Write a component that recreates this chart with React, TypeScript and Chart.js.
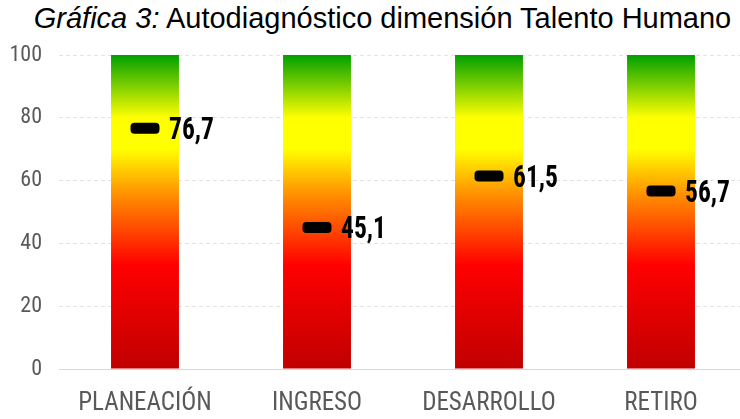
import React, { useEffect, useRef } from "react";
import { Chart, registerables } from "chart.js";

Chart.register(...registerables);

const categories = ["PLANEACIÓN", "INGRESO", "DESARROLLO", "RETIRO"];
const scores = [76.7, 45.1, 61.5, 56.7];
const scaleMax = [100, 100, 100, 100];
const scoreLabels = ["76,7", "45,1", "61,5", "56,7"];
const yTicks = [0, 20, 40, 60, 80, 100];

const NARROW = '"Liberation Sans Narrow", "Arial Narrow", "Roboto Condensed", sans-serif';

const markerPlugin = {
  id: "markers",
  afterDatasetsDraw(chart: any) {
    const { ctx } = chart;
    const meta = chart.getDatasetMeta(0);
    const y = chart.scales.y;
    meta.data.forEach((bar: any, i: number) => {
      const cx = bar.x;
      const cy = y.getPixelForValue(scores[i]);
      const w = 29;
      const h = 11;
      ctx.save();
      ctx.fillStyle = "#000";
      ctx.beginPath();
      (ctx as any).roundRect(cx - w / 2, cy - h / 2, w, h, 4);
      ctx.fill();
      ctx.translate(cx + 24, cy + 11);
      ctx.scale(0.88, 1.05);
      ctx.font = `bold 29px ${NARROW}`;
      ctx.textAlign = "left";
      ctx.textBaseline = "alphabetic";
      ctx.fillText(scoreLabels[i], 0, 0);
      ctx.restore();
    });
  },
};

export default function App() {
  const ref = useRef<HTMLCanvasElement | null>(null);
  useEffect(() => {
    if (!ref.current) return;
    const chart = new Chart(ref.current, {
      type: "bar",
      data: {
        labels: categories,
        datasets: [
          {
            data: scaleMax,
            backgroundColor: (c: any) => {
              const area = c.chart.chartArea;
              if (!area) return "#ff0000";
              const g = c.chart.ctx.createLinearGradient(0, area.bottom, 0, area.top);
              g.addColorStop(0, "#C00000");
              g.addColorStop(0.33, "#FF0000");
              g.addColorStop(0.55, "#FF8C00");
              g.addColorStop(0.7, "#FFFF00");
              g.addColorStop(0.8, "#FFFF00");
              g.addColorStop(1, "#00A000");
              return g;
            },
            borderWidth: 0,
            categoryPercentage: 1,
            barPercentage: 0.395,
          },
        ],
      },
      options: {
        animation: false,
        responsive: false,
        maintainAspectRatio: false,
        layout: { padding: { top: 55, right: 0, left: 0, bottom: 0 } },
        plugins: {
          legend: { display: false },
          tooltip: { enabled: false },
          title: { display: false },
        },
        scales: {
          x: {
            grid: { display: false },
            border: { display: true, color: "#d9d9d9", width: 1 },
            ticks: {
              color: "#595959",
              font: { family: NARROW, size: 25 },
              padding: 12,
              maxRotation: 0,
            },
            afterFit: (s: any) => {
              s.height = 50;
            },
          },
          y: {
            min: 0,
            max: 100,
            afterBuildTicks: (s: any) => {
              s.ticks = yTicks.map((v) => ({ value: v }));
            },
            grid: {
              color: (c: any) => (c.tick && c.tick.value === 0 ? "rgba(0,0,0,0)" : "#e3e3e3"),
              drawTicks: false,
            },
            border: { display: false, dash: [4, 3] },
            ticks: {
              color: "#595959",
              font: { family: NARROW, size: 22 },
              padding: 17,
            },
            afterFit: (s: any) => {
              s.width = 59;
            },
          },
        },
      },
      plugins: [markerPlugin],
    });
    return () => chart.destroy();
  }, []);

  return (
    <div
      style={{
        position: "absolute",
        left: 0,
        top: 0,
        width: 740,
        height: 419,
        overflow: "hidden",
        background: "#fff",
      }}
    >
      <div
        style={{
          position: "absolute",
          left: 0,
          top: 1,
          width: 765,
          textAlign: "center",
          fontFamily: '"Liberation Sans", Arial, sans-serif',
          fontSize: 29,
          color: "#000",
          whiteSpace: "nowrap",
          lineHeight: "34px",
        }}
      >
        <i>Gráfica 3:</i> Autodiagnóstico dimensión Talento Humano
      </div>
      <canvas
        ref={ref}
        width={747}
        height={419}
        style={{ position: "absolute", left: 0, top: 0, width: 747, height: 419 }}
      />
    </div>
  );
}
